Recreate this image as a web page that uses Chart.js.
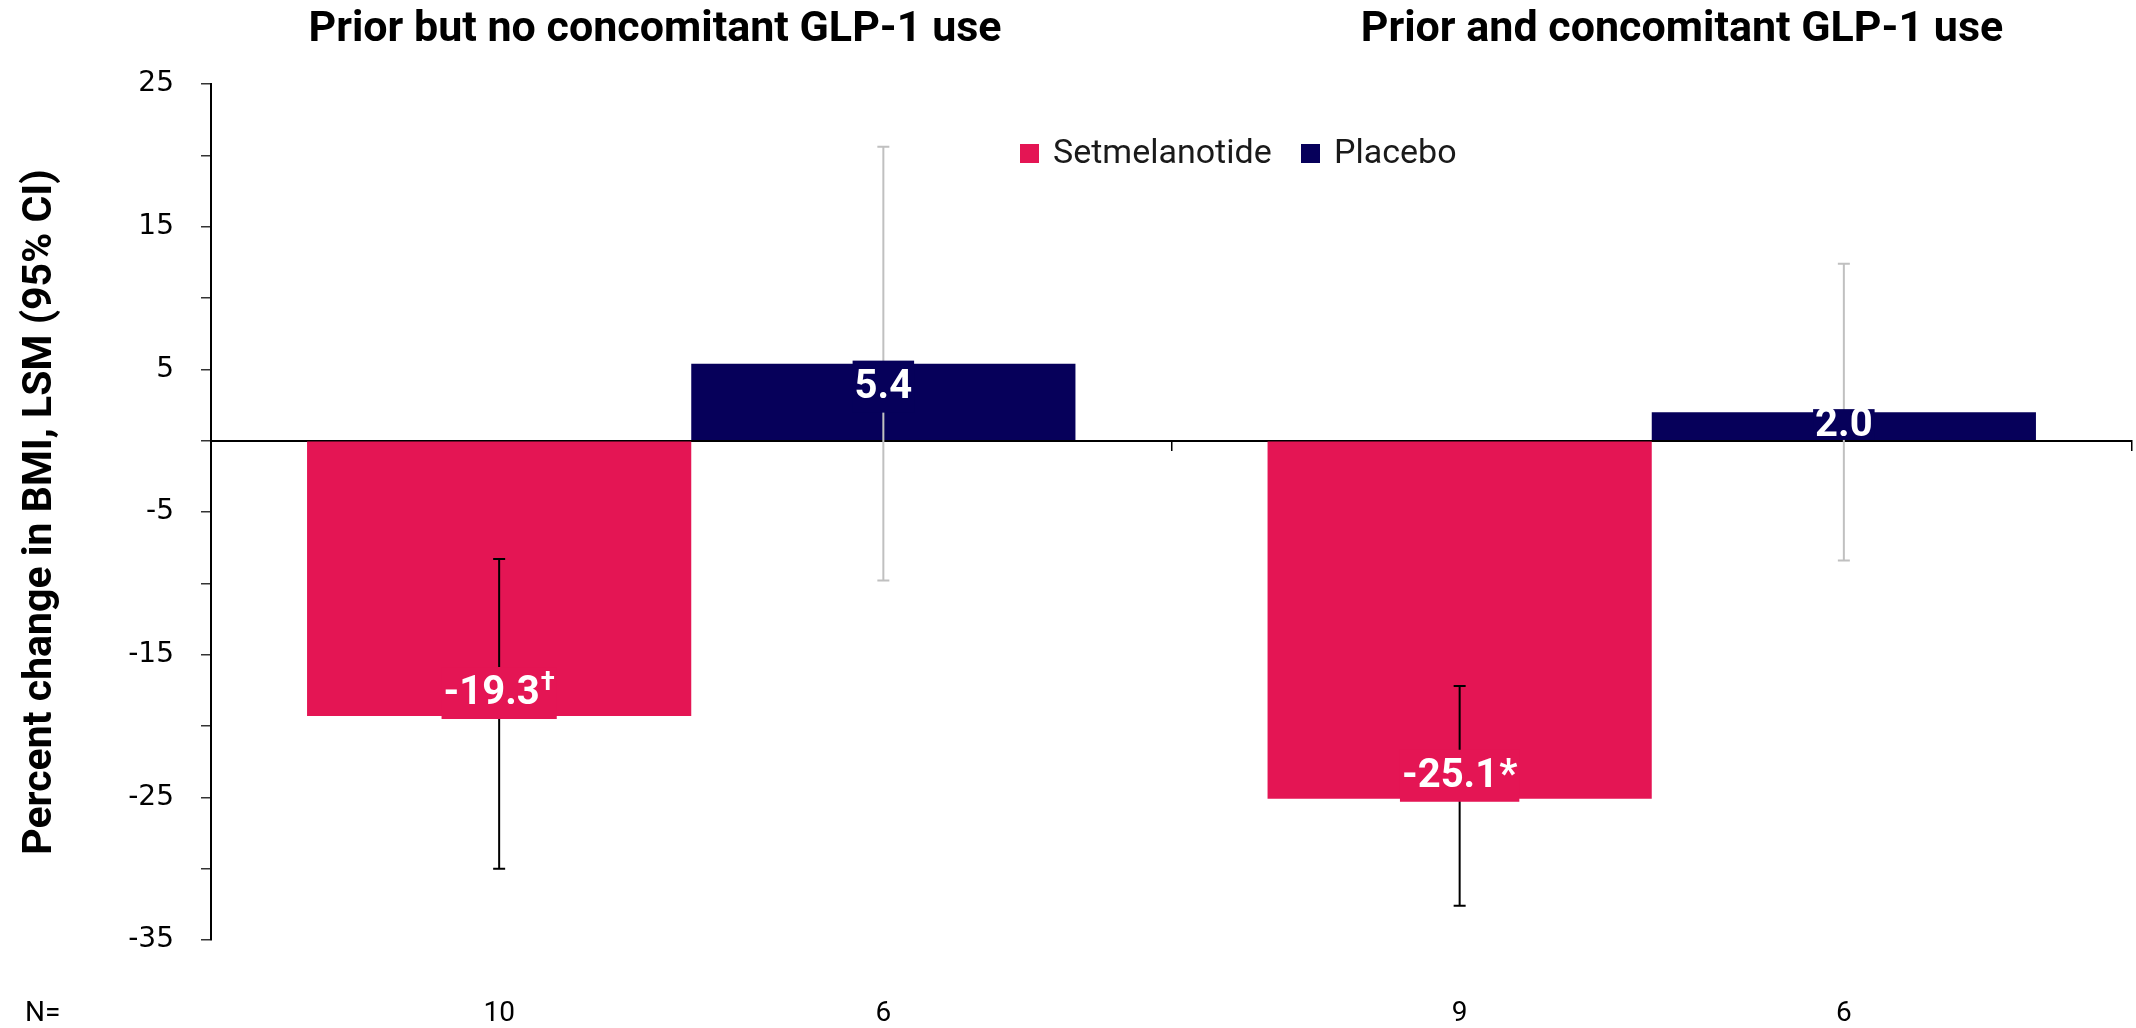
<!DOCTYPE html>
<html>
<head>
<meta charset="utf-8">
<script src="https://cdn.jsdelivr.net/npm/chart.js@4.4.1/dist/chart.umd.min.js"></script>
<style>
  html, body { margin: 0; padding: 0; background: #ffffff; }
</style>
</head>
<body>
<canvas id="chart" width="2136" height="1028"></canvas>
<script>
// groups and results
const groups = ['Prior but no concomitant GLP-1 use', 'Prior and concomitant GLP-1 use'];
const seriesNames = ['Setmelanotide', 'Placebo'];
const setmelanotide = [-19.3, -25.1];
const placebo = [5.4, 2.0];
// 95% CI bounds
const setmelanotideLow = [-30.0, -32.6];
const setmelanotideHigh = [-8.3, -17.2];
const placeboLow = [-9.8, -8.4];
const placeboHigh = [20.6, 12.4];
// significance marks after the value labels
const setmelanotideMarks = ['†', '*'];
const placeboMarks = ['', ''];
// patients per bar
const setmelanotideN = [10, 9];
const placeboN = [6, 6];
// y axis
const yMin = -35;
const yMax = 25;
const yStep = 5;

const PINK = '#e41554';
const NAVY = '#06005a';

const titleX = [655, 1682];

const errorBars = {
    id: 'errorBars',
    afterDatasetsDraw(chart) {
        const ctx = chart.ctx;
        const y = chart.scales.y;
        const ci = [
            { low: setmelanotideLow, high: setmelanotideHigh, color: '#000000' },
            { low: placeboLow, high: placeboHigh, color: '#c0c0c0' }
        ];
        ci.forEach((s, d) => {
            chart.getDatasetMeta(d).data.forEach((bar, i) => {
                const top = y.getPixelForValue(s.high[i]);
                const bot = y.getPixelForValue(s.low[i]);
                ctx.save();
                ctx.strokeStyle = s.color;
                ctx.lineWidth = 2;
                ctx.beginPath();
                ctx.moveTo(bar.x, top);
                ctx.lineTo(bar.x, bot);
                ctx.moveTo(bar.x - 6, top);
                ctx.lineTo(bar.x + 6, top);
                ctx.moveTo(bar.x - 6, bot);
                ctx.lineTo(bar.x + 6, bot);
                ctx.stroke();
                ctx.restore();
            });
        });

        // value labels sit on a box of the bar colour, over the error bars
        const marks = [setmelanotideMarks, placeboMarks];
        chart.data.datasets.forEach((ds, d) => {
            chart.getDatasetMeta(d).data.forEach((bar, i) => {
                const v = ds.data[i];
                const up = v >= 0;
                const outer = up ? bar.y - 3 : bar.y + 3;
                let inner = up ? outer + 52 : outer - 52;
                inner = up ? Math.min(inner, bar.base) : Math.max(inner, bar.base);
                const mid = (outer + inner) / 2;
                const text = v.toFixed(1);
                const mark = marks[d][i];
                const sup = mark === '†';

                ctx.save();
                ctx.font = 'bold 40px Roboto';
                const wText = ctx.measureText(text).width;
                ctx.font = sup ? 'bold 26px Roboto' : 'bold 40px Roboto';
                const wMark = mark ? ctx.measureText(mark).width + 1 : 0;
                const w = wText + wMark + 4;
                ctx.fillStyle = ds.backgroundColor;
                ctx.fillRect(bar.x - w / 2, Math.min(outer, inner), w, Math.abs(inner - outer));

                ctx.fillStyle = '#ffffff';
                ctx.textBaseline = 'middle';
                ctx.textAlign = 'left';
                const x0 = bar.x - (wText + wMark) / 2;
                ctx.font = 'bold 40px Roboto';
                ctx.fillText(text, x0, mid + 1);
                if (mark) {
                    ctx.font = sup ? 'bold 26px Roboto' : 'bold 40px Roboto';
                    ctx.fillText(mark, x0 + wText + 1, sup ? mid - 10 : mid + 1);
                }
                ctx.restore();
            });
        });
    }
};

const extras = {
    id: 'extras',
    afterDraw(chart) {
        const ctx = chart.ctx;
        ctx.save();

        // group headings
        ctx.fillStyle = '#000000';
        ctx.font = 'bold 43px Roboto';
        ctx.textAlign = 'center';
        ctx.textBaseline = 'middle';
        groups.forEach((g, i) => ctx.fillText(g, titleX[i], 30));

        // legend
        const legendX = [1020, 1301];
        ctx.font = '34px Roboto';
        ctx.textAlign = 'left';
        chart.data.datasets.forEach((ds, d) => {
            ctx.fillStyle = ds.backgroundColor;
            ctx.fillRect(legendX[d], 144, 19, 19);
            ctx.fillStyle = '#1a1a1a';
            ctx.fillText(ds.label, legendX[d] + 33, 154);
        });

        // N row under the plot
        const counts = [setmelanotideN, placeboN];
        ctx.font = '28px Roboto';
        ctx.fillStyle = '#000000';
        ctx.fillText('N=', 25, 1014);
        ctx.textAlign = 'center';
        counts.forEach((n, d) => {
            chart.getDatasetMeta(d).data.forEach((bar, i) => {
                ctx.fillText(String(n[i]), bar.x, 1014);
            });
        });
        ctx.restore();
    }
};

new Chart(document.getElementById('chart'), {
    type: 'bar',
    data: {
        labels: groups,
        datasets: [
            { label: seriesNames[0], data: setmelanotide, backgroundColor: PINK },
            { label: seriesNames[1], data: placebo, backgroundColor: NAVY }
        ]
    },
    options: {
        responsive: false,
        animation: false,
        devicePixelRatio: 1,
        layout: { padding: { top: 84, right: 4, bottom: 88, left: 0 } },
        datasets: {
            bar: { barPercentage: 1.0, categoryPercentage: 0.8, borderWidth: 0 }
        },
        plugins: {
            legend: { display: false },
            tooltip: { enabled: false },
            title: { display: false }
        },
        scales: {
            x: {
                position: { y: 0 },
                offset: true,
                ticks: { display: false },
                grid: {
                    display: true,
                    drawOnChartArea: false,
                    drawTicks: true,
                    tickLength: 9,
                    color: '#000000',
                    lineWidth: 1.5
                },
                border: { display: true, color: '#000000', width: 2 }
            },
            y: {
                min: yMin,
                max: yMax,
                afterFit(scale) { scale.width = 211; },
                ticks: {
                    stepSize: yStep,
                    padding: 27,
                    color: '#000000',
                    font: { family: 'DejaVu Sans', size: 28 },
                    callback: v => ((v - yMax) % 10 === 0 ? String(v) : '')
                },
                grid: {
                    display: true,
                    drawOnChartArea: false,
                    drawTicks: true,
                    tickLength: 10,
                    color: '#333333',
                    lineWidth: 1.5
                },
                border: { display: true, color: '#000000', width: 2 },
                title: {
                    display: true,
                    text: 'Percent change in BMI, LSM (95% CI)',
                    color: '#000000',
                    font: { family: 'Roboto', size: 41, weight: 'bold' },
                    padding: { top: 16, bottom: 0 }
                }
            }
        }
    },
    plugins: [errorBars, extras]
});
</script>
</body>
</html>
